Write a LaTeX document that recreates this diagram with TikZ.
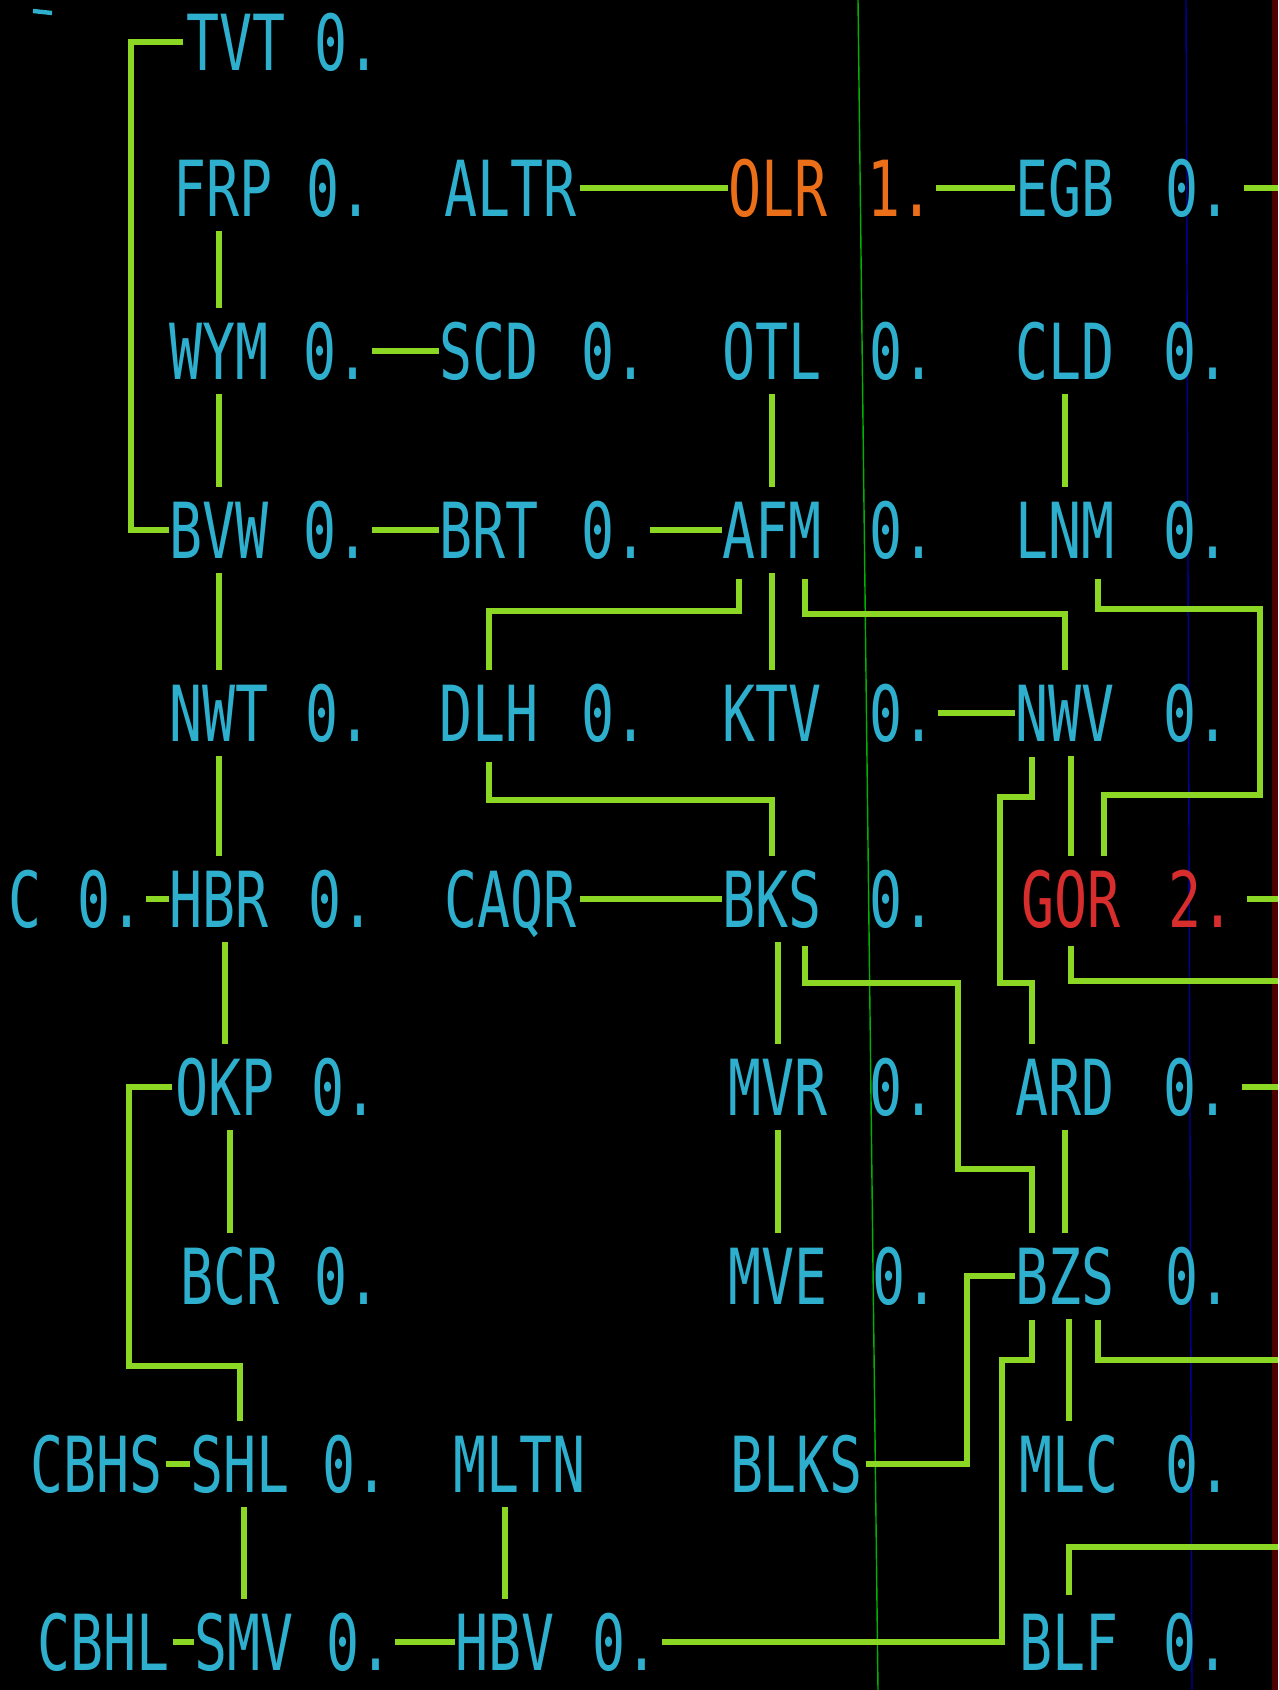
\documentclass[tikz,border=0pt]{standalone}
\usepackage{fontspec}
\newfontfamily\crtfam[FakeStretch=0.71]{DejaVu Sans Mono}
\newcommand{\crtfont}{\crtfam\fontsize{44}{44}\selectfont}
\definecolor{crtcyan}{RGB}{45,175,205}
\definecolor{crtgreen}{RGB}{140,215,35}
\definecolor{crtorange}{RGB}{235,110,25}
\definecolor{crtred}{RGB}{215,45,45}

\begin{document}
\begin{tikzpicture}[
  x=0.02cm, y=-0.02cm,
  crt/.style={font=\crtfont, text=crtcyan, inner sep=0pt, anchor=base west,
              text height=1.12cm, text depth=0pt},
  link/.style={draw=crtgreen, line width=3.3pt, shorten <=1.5pt},
  vlink/.style={link, shorten <=0.3cm, shorten >=0.3cm},
  scanline/.style={draw=green!70!black, line width=0.8pt}
]
\useasboundingbox (0,0) rectangle (1278,1690);
\clip (0,0) rectangle (1278,1690);
\fill[black] (0,0) rectangle (1278,1690);
\coordinate (rim) at (1278,0);

%% Screen artefacts
\draw[scanline] (858,0) -- (878,1690);
\draw[blue!60!black, line width=0.8pt] (1186,0) -- (1192,1690);
\fill[red!30!black] (1272,0) rectangle (1278,1690);
\draw[crtcyan, line width=2.5pt] (33,11) -- (52,13);

%% Station names
\foreach \nm/\lab/\x/\y in {
  tvt/TVT/186/70, frp/FRP/173/216, wym/WYM/169/379, bvw/BVW/169/558,
  nwt/NWT/169/741, hbr/HBR/169/927, okp/OKP/175/1115, bcr/BCR/180/1304,
  shl/SHL/190/1492, smv/SMV/194/1670, c/C/8/927, cbhs/CBHS/30/1492,
  cbhl/CBHL/37/1670,
  altr/ALTR/444/216, scd/SCD/439/379, brt/BRT/439/558, dlh/DLH/439/741,
  caqr/CAQR/444/927, mltn/MLTN/453/1492, hbv/HBV/455/1670,
  otl/OTL/722/379, afm/AFM/722/558, ktv/KTV/722/741, bks/BKS/722/927,
  mvr/MVR/728/1115, mve/MVE/728/1304, blks/BLKS/730/1492,
  egb/EGB/1015/216, cld/CLD/1015/379, lnm/LNM/1015/558, nwv/NWV/1015/741,
  ard/ARD/1015/1115, bzs/BZS/1015/1304, mlc/MLC/1019/1492, blf/BLF/1019/1670}
  \node[crt] (\nm) at (\x,\y) {\lab};
\node[crt, text=crtorange] (olr) at (728,216) {OLR};
\node[crt, text=crtred] (gor) at (1021,927) {GOR};

%% Counts
\foreach \nm/\x/\y in {
  tvtv/314/70, frpv/306/216, wymv/303/379, bvwv/303/558, nwtv/305/741,
  hbrv/308/927, okpv/311/1115, bcrv/314/1304, shlv/322/1492, smvv/326/1670,
  cv/77/927, scdv/581/379, brtv/581/558, dlhv/581/741, hbvv/592/1670,
  otlv/869/379, afmv/869/558, ktvv/869/741, bksv/869/927, mvrv/869/1115,
  mvev/872/1304, egbv/1165/216, cldv/1163/379, lnmv/1163/558,
  nwvv/1163/741, ardv/1163/1115, bzsv/1165/1304, mlcv/1165/1492,
  blfv/1163/1670}
  \node[crt] (\nm) at (\x,\y) {0.};
\node[crt, text=crtorange] (olrv) at (867,216) {1.};
\node[crt, text=crtred] (gorv) at (1168,927) {2.};

%% Straight links
\foreach \a/\b in {frp/wym, wym/bvw, bvw/nwt, nwt/hbr, hbr/okp, okp/bcr,
  shl/smv, mltn/hbv, otl/afm, afm/ktv, bks/mvr, mvr/mve, cld/lnm,
  nwv/gor, ard/bzs, bzs/mlc}
  \draw[vlink] (\a.south -| \b.north) -- (\b.north);
\foreach \a/\b in {cv/hbr, cbhs/shl, cbhl/smv, wymv/scd, bvwv/brt, brtv/afm,
  altr/olr, olrv/egb, ktvv/nwv, caqr/bks, smvv/hbv}
  \draw[link] (\a.east) -- (\b.west);
\foreach \a in {egbv, gorv, ardv}
  \draw[link, shorten <=0.25cm] (\a.east) -- (\a.east -| rim);

%% Bent links
\draw[link] (tvt.west) -- ++(-55,0) |- (bvw.west);
\draw[link, shorten >=0.3cm] (okp.west) -- ++(-46,0) -- ++(0,279) -| (shl.north);
\draw[link, shorten >=0.3cm] ([xshift=-0.66cm]afm.south) ++(0,18) -- ++(0,35) -| (dlh.north);
\draw[link, shorten >=0.3cm] ([xshift=0.66cm]afm.south) ++(0,18) -- ++(0,38) -| (nwv.north);
\draw[link, shorten >=0.3cm] ([xshift=0.66cm]lnm.south) ++(0,18) -- ++(0,33)
  -- ++(162,0) -- ++(0,186) -| ([xshift=0.66cm]gor.north);
\draw[link, shorten >=0.3cm] ([xshift=-0.66cm]nwv.south) ++(0,13) -- ++(0,43)
  -- ++(-32,0) -- ++(0,186) -| ([xshift=-0.66cm]ard.north);
\draw[link, shorten >=0.3cm] (dlh.south) ++(0,18) -- ++(0,41) -| (bks.north);
\draw[link, shorten >=0.3cm] ([xshift=0.66cm]bks.south) ++(0,16) -- ++(0,40)
  -- ++(153,0) -- ++(0,186) -| ([xshift=-0.66cm]bzs.north);
\draw[link] (blks.east) -- ++(104,0) |- (bzs.west);
\draw[link, shorten >=2pt] ([xshift=-0.66cm]bzs.south) ++(0,13) -- ++(0,43)
  -- ++(-30,0) |- (hbvv.east);
\draw[link] ([xshift=0.66cm]bzs.south) ++(0,13) -- ++(0,43) coordinate (bzsout)
  -- (bzsout -| rim);
\draw[link] (gor.south) ++(0,16) -- ++(0,38) coordinate (gorout) -- (gorout -| rim);
\draw[link] (blf.north) ++(0,-16) -- ++(0,-51) coordinate (blfout) -- (blfout -| rim);
\end{tikzpicture}
\end{document}
